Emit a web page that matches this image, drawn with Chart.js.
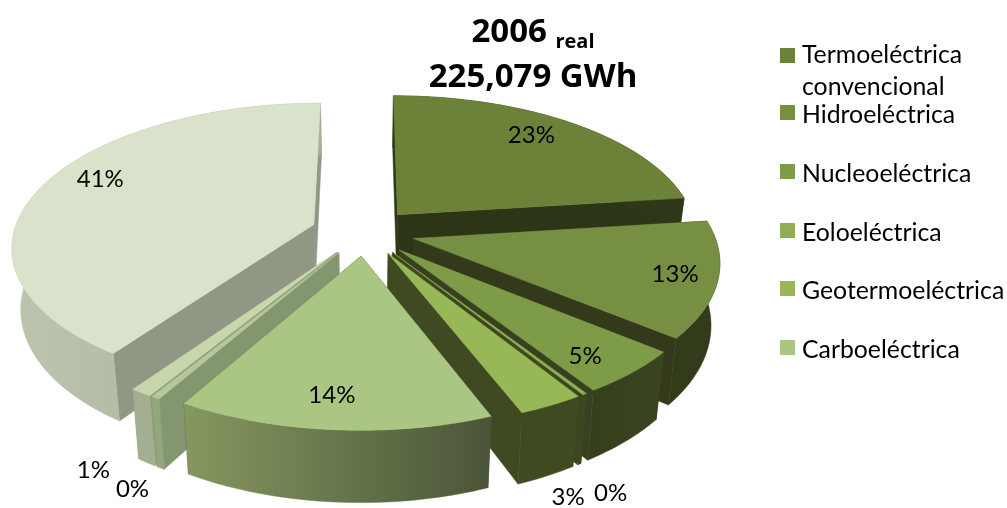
<!DOCTYPE html>
<html>
<head>
<meta charset="utf-8">
<script src="https://cdn.jsdelivr.net/npm/chart.js@4"></script>
<style>
  html, body { margin: 0; background: #fff; overflow: hidden; }
  #wrap { position: relative; width: 1007px; height: 508px; font-family: Lato, sans-serif; color: #000; }
  #title { position: absolute; left: 380px; top: 7px; width: 306px; text-align: center; font-weight: bold; font-size: 33px; line-height: 45px; font-family: "Open Sans", sans-serif; }
  #title sub { font-size: 20px; vertical-align: -6px; line-height: 0; }
  .item { position: absolute; left: 802px; width: 205px; font-size: 24.8px; line-height: 32px; white-space: normal; }
  .box { position: absolute; left: 780px; width: 15px; height: 15px; }
</style>
</head>
<body>
<div id="wrap">
  <canvas id="myChart" width="1007" height="508"></canvas>
  <div id="title">2006 <sub>real</sub><br>225,079 GWh</div>
</div>
<script>
var categories = ['Termoeléctrica convencional', 'Hidroeléctrica', 'Nucleoeléctrica', 'Eoloeléctrica', 'Geotermoeléctrica', 'Carboeléctrica'];
var values = [23.2, 13, 5, 0.2, 3, 14.4, 0.4, 1, 40.6];

var topColors = ['#6d8239', '#768f42', '#7e9c48', '#91ae54', '#98b857', '#abc582', '#b4c89a', '#c8d6ae', '#d9e3cb'];
var wallColors = ['#2c3617', '#33391a', '#374120', '#3c4720', '#3f4a22', '#4a5538', '#84966f', '#8e9a7a', '#909785'];
var rimFrom = ['#2e3819', '#333c1a', '#353f1d', '#3c4720', '#3f4a22', '#85985f', '#93a67d', '#a4af92', '#bcc4ad'];
var rimTo = ['#2e3819', '#333c1a', '#3a4520', '#3c4720', '#3f4a22', '#4a5538', '#93a67d', '#a4af92', '#a6af98'];
var explodes = [50, 50, 50, 50, 50, 50, 50, 50, 54];
var labelFrac = [0.83, 0.88, 0.86, 1, 1, 0.83, 1, 1, 0.83];
var labelNudge = [[-12, -2], [-5, 0], [-11, 3], [26, 99], [17, 92], [-7, -1], [-23, 92], [-48, 78], [12, -12]];

// where the pie sits on screen and how it is tilted
var pieX = 365, pieY = 232, radius = 300, tilt = 0.47, depth = 60, eye = 2050, lowShrink = 0.975;

function project(arc, a, r, low) {
  var mid = (arc.startAngle + arc.endAngle) / 2;
  var px = arc.options.offset * Math.cos(mid) + r * Math.cos(a);
  var pz = arc.options.offset * Math.sin(mid) + r * Math.sin(a);
  var s = eye / (eye - pz);
  return [pieX + px * s * (low ? lowShrink : 1), pieY + (pz * tilt + (low ? depth : 0)) * s];
}

function fillPoly(ctx, pts, fill) {
  ctx.beginPath();
  pts.forEach(function (p, i) { i ? ctx.lineTo(p[0], p[1]) : ctx.moveTo(p[0], p[1]); });
  ctx.closePath();
  ctx.fillStyle = fill;
  ctx.fill();
  ctx.strokeStyle = fill;
  ctx.lineWidth = 0.5;
  ctx.stroke();
}

function rimPoints(arc, low) {
  var pts = [], n = Math.max(2, Math.ceil((arc.endAngle - arc.startAngle) * 40));
  for (var i = 0; i <= n; i++) {
    pts.push(project(arc, arc.startAngle + (arc.endAngle - arc.startAngle) * i / n, arc.outerRadius, low));
  }
  return pts;
}

var pie3d = {
  id: 'pie3d',
  beforeDatasetDraw: function (chart, args) {
    var ctx = chart.ctx;
    var arcs = args.meta.data;
    var order = arcs.map(function (a, i) { return i; }).sort(function (p, q) {
      return Math.sin((arcs[p].startAngle + arcs[p].endAngle) / 2) - Math.sin((arcs[q].startAngle + arcs[q].endAngle) / 2);
    });
    order.forEach(function (i) {
      var arc = arcs[i];
      var top = rimPoints(arc, false), low = rimPoints(arc, true);
      var apex = project(arc, arc.startAngle, 0, false), apexLow = project(arc, arc.startAngle, 0, true);
      // radial walls
      fillPoly(ctx, [apex, top[0], low[0], apexLow], wallColors[i]);
      fillPoly(ctx, [apex, top[top.length - 1], low[low.length - 1], apexLow], wallColors[i]);
      // outer wall
      var xs = top.map(function (p) { return p[0]; });
      var grad = ctx.createLinearGradient(Math.min.apply(null, xs), 0, Math.max.apply(null, xs) + 0.1, 0);
      grad.addColorStop(0, rimFrom[i]);
      grad.addColorStop(1, rimTo[i]);
      fillPoly(ctx, top.concat(low.slice().reverse()), grad);
      // top face
      fillPoly(ctx, [apex].concat(top), arc.options.backgroundColor);
    });
    ctx.fillStyle = '#000';
    ctx.font = '24px Lato, sans-serif';
    ctx.textAlign = 'center';
    ctx.textBaseline = 'middle';
    arcs.forEach(function (arc, i) {
      var mid = (arc.startAngle + arc.endAngle) / 2;
      var p = project(arc, mid, arc.outerRadius * labelFrac[i], false);
      ctx.fillText(Math.round(values[i]) + '%', p[0] + labelNudge[i][0], p[1] + labelNudge[i][1]);
    });
    return false;
  }
};

var ctx = document.getElementById('myChart');
var myChart = new Chart(ctx, {
  type: 'pie',
  data: {
    labels: categories,
    datasets: [{ data: values, backgroundColor: topColors, borderWidth: 0, radius: radius, offset: explodes }]
  },
  options: {
    responsive: false,
    animation: false,
    plugins: { legend: { display: false }, tooltip: { enabled: false } }
  },
  plugins: [pie3d]
});

var legendRows = [45, 98, 157, 216, 274, 333];
var wrap = document.getElementById('wrap');
categories.forEach(function (name, i) {
  var box = document.createElement('div');
  box.className = 'box';
  box.style.top = (i ? legendRows[i] + 7 : 48) + 'px';
  box.style.background = topColors[i];
  wrap.appendChild(box);
  var item = document.createElement('div');
  item.className = 'item';
  item.style.top = (i ? legendRows[i] : 38) + 'px';
  item.textContent = name;
  wrap.appendChild(item);
});
</script>
</body>
</html>
